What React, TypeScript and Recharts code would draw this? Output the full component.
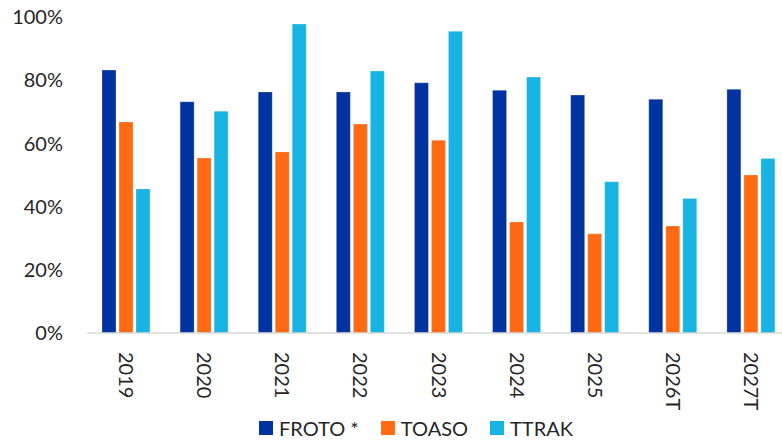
import React from "react";
import { BarChart, Bar, XAxis, YAxis, Legend } from "recharts";

const years = ["2019", "2020", "2021", "2022", "2023", "2024", "2025", "2026T", "2027T"];
const froto = [83.2, 73.2, 76.3, 76.3, 79.2, 76.8, 75.3, 74.0, 77.1];
const toaso = [66.8, 55.4, 57.3, 66.1, 61.0, 35.1, 31.4, 33.9, 50.0];
const ttrak = [45.6, 70.2, 97.8, 82.9, 95.5, 81.0, 47.9, 42.6, 55.2];
const yTicks = [0, 20, 40, 60, 80, 100];

const series = [
  { key: "froto", name: "FROTO *", color: "#0033A0" },
  { key: "toaso", name: "TOASO", color: "#FF6A13" },
  { key: "ttrak", name: "TTRAK", color: "#17B3E3" },
];

const data = years.map((year, i) => ({
  year,
  froto: froto[i],
  toaso: toaso[i],
  ttrak: ttrak[i],
}));

const FONT = "Lato, 'Open Sans', sans-serif";

const YearTick = (props: any) => {
  const { x, y, payload } = props;
  return (
    <text
      x={x}
      y={y}
      transform={`rotate(90, ${x}, ${y})`}
      dx={11}
      dy="0.35em"
      textAnchor="start"
      fill="#262626"
      fontSize={20}
      fontFamily={FONT}
    >
      {payload.value}
    </text>
  );
};

const LegendBox = () => (
  <div
    style={{
      display: "flex",
      justifyContent: "center",
      alignItems: "center",
      height: 24,
      fontFamily: FONT,
      fontSize: 20,
      color: "#262626",
      paddingLeft: 64,
    }}
  >
    {series.map((s) => (
      <div key={s.key} style={{ display: "flex", alignItems: "center", marginRight: 22 }}>
        <span style={{ width: 14, height: 14, background: s.color, marginRight: 6 }} />
        <span>{s.name}</span>
      </div>
    ))}
  </div>
);

export default function App() {
  return (
    <div
      style={{
        position: "absolute",
        left: 0,
        top: 0,
        width: 782,
        height: 440,
        overflow: "hidden",
        background: "#fff",
      }}
    >
      <BarChart
        width={800}
        height={440}
        data={data}
        margin={{ top: 17, right: 10, bottom: 13, left: 0 }}
        barSize={14}
        barGap={3}
      >
        <YAxis
          width={87}
          domain={[0, 100]}
          ticks={yTicks}
          tickFormatter={(v) => `${v}%`}
          axisLine={false}
          tickLine={false}
          tickSize={0}
          tickMargin={24}
          tick={{ fill: "#262626", fontSize: 20, fontFamily: FONT }}
        />
        <XAxis
          dataKey="year"
          height={70}
          interval={0}
          tickLine={false}
          axisLine={{ stroke: "#D9D9D9", strokeWidth: 1.5 }}
          tick={<YearTick />}
        />
        <Legend verticalAlign="bottom" content={<LegendBox />} wrapperStyle={{ bottom: 0 }} />
        {series.map((s) => (
          <Bar
            key={s.key}
            dataKey={s.key}
            name={s.name}
            fill={s.color}
            stroke="#ffffff"
            strokeOpacity={0.5}
            strokeWidth={0.5}
            isAnimationActive={false}
          />
        ))}
      </BarChart>
    </div>
  );
}
